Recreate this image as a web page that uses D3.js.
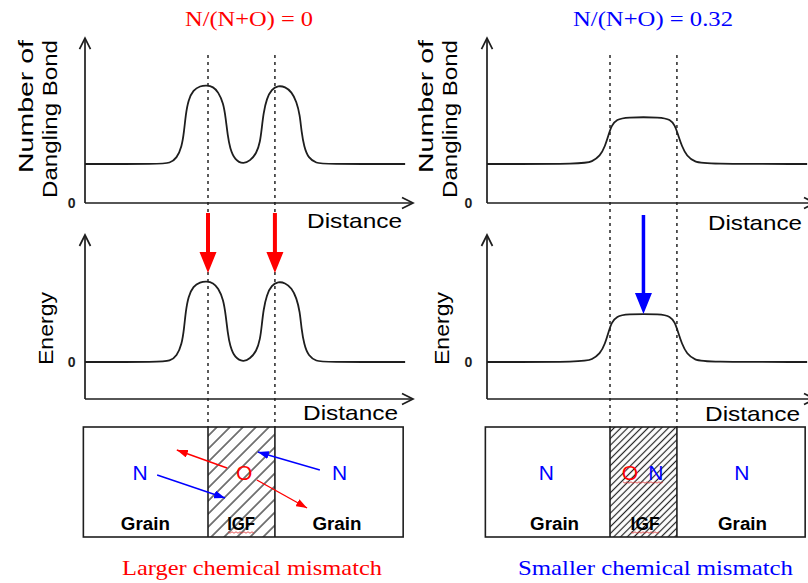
<!DOCTYPE html>
<html>
<head>
<meta charset="utf-8">
<script src="https://cdn.jsdelivr.net/npm/d3@7"></script>
<style>
  html, body { margin: 0; padding: 0; background: #fff; }
  svg { display: block; }
</style>
</head>
<body>
<svg id="fig" width="808" height="583"></svg>
<script>
// ---- data -------------------------------------------------------------
const titles = ["N/(N+O) = 0", "N/(N+O) = 0.32"];
const captions = ["Larger chemical mismatch", "Smaller chemical mismatch"];
const igfBounds = [3.75, 5.79];           // IGF edges along the distance axis

// two-peak profile, N/(N+O) = 0
const distA   = [0, 2.29, 2.59, 2.80, 2.95, 3.02, 3.07, 3.15, 3.30, 3.51, 3.71, 3.91, 4.06, 4.22, 4.29, 4.35, 4.42, 4.57, 4.83,
                 5.03, 5.23, 5.34, 5.39, 5.44, 5.54, 5.69, 5.89, 6.10, 6.30, 6.45, 6.55, 6.60, 6.68, 6.81, 7.06, 7.27, 9.76];
const bondA   = [1.00, 1.00, 1.02, 1.15, 1.44, 1.83, 2.26, 2.64, 2.90, 3.00, 3.02, 2.98, 2.85, 2.56, 2.17, 1.74, 1.40, 1.10, 1.00,
                 1.08, 1.27, 1.57, 1.92, 2.30, 2.68, 2.92, 3.01, 2.98, 2.85, 2.60, 2.26, 1.83, 1.44, 1.15, 1.02, 1.00, 1.00];
const energyA = [0.00, 0.00, 0.02, 0.15, 0.44, 0.83, 1.26, 1.64, 1.90, 2.00, 2.02, 1.98, 1.85, 1.56, 1.17, 0.74, 0.40, 0.10, 0.00,
                 0.08, 0.27, 0.57, 0.92, 1.30, 1.68, 1.92, 2.01, 1.98, 1.85, 1.60, 1.26, 0.83, 0.44, 0.15, 0.02, 0.00, 0.00];

// plateau profile, N/(N+O) = 0.32
const distB   = [0, 2.99, 3.19, 3.45, 3.60, 3.70, 3.80, 3.96, 4.21, 5.33, 5.58, 5.73, 5.83, 5.94, 6.09, 6.34, 6.65, 9.76];
const bondB   = [1.00, 1.00, 1.06, 1.20, 1.46, 1.73, 2.00, 2.14, 2.20, 2.20, 2.14, 2.00, 1.73, 1.46, 1.20, 1.05, 1.00, 1.00];
const energyB = [0.00, 0.00, 0.06, 0.20, 0.46, 0.73, 1.00, 1.14, 1.20, 1.20, 1.14, 1.00, 0.73, 0.46, 0.20, 0.05, 0.00, 0.00];

const peakEnergyA = 2.0;                  // barrier height marked by the red arrows
const plateauEnergyB = 1.2;               // barrier height marked by the blue arrow

// ---- setup ------------------------------------------------------------
const sans = "'Liberation Sans', Arial, Helvetica, sans-serif";
const serif = "'Liberation Serif', 'Times New Roman', serif";
const RED = "#ff0000", BLUE = "#0000ff", INK = "#1e1e1e";

const svg = d3.select("#fig");
const defs = svg.append("defs");

const xs = [
  d3.scaleLinear().domain([0, 10]).range([85, 413]),
  d3.scaleLinear().domain([0, 10]).range([487, 815])
];
const yBond = d3.scaleLinear().domain([0, 1]).range([203, 164]);
const yEnergy = d3.scaleLinear().domain([0, 1]).range([362, 322]);
const bondRange = [0, 4.23];
const energyRange = [-0.925, 3.175];

function hatch(id, gap) {
  const p = defs.append("pattern").attr("id", id)
    .attr("patternUnits", "userSpaceOnUse")
    .attr("width", gap).attr("height", gap)
    .attr("patternTransform", "rotate(45)");
  p.append("line").attr("x1", gap / 2).attr("y1", 0).attr("x2", gap / 2).attr("y2", gap)
    .attr("stroke", "#222").attr("stroke-width", 1.2);
}
hatch("hatch-wide", 9.2);
hatch("hatch-fine", 4.8);

[["red", RED], ["blue", BLUE]].forEach(([n, c]) => {
  defs.append("marker").attr("id", "tip-" + n)
    .attr("viewBox", "0 0 10 10").attr("refX", 10).attr("refY", 5)
    .attr("markerUnits", "userSpaceOnUse")
    .attr("markerWidth", 11).attr("markerHeight", 8)
    .attr("preserveAspectRatio", "none")
    .attr("orient", "auto")
    .append("path").attr("d", "M0,0L10,5L0,10Z").attr("fill", c);
});

function axes(x, y, lo, hi, zeroX) {
  const g = svg.append("g").attr("fill", "none").attr("stroke", INK).attr("stroke-width", 1.7);
  const x0 = x(0), x1 = x(10), yb = y(lo), yt = y(hi);
  g.append("line").attr("x1", x0).attr("y1", yb).attr("x2", x1).attr("y2", yb);
  g.append("line").attr("x1", x0).attr("y1", yb).attr("x2", x0).attr("y2", yt);
  g.append("path").attr("d", `M${x1 - 11},${yb - 5.5}L${x1},${yb}L${x1 - 11},${yb + 5.5}`);
  g.append("path").attr("d", `M${x0 - 5.5},${yt + 11}L${x0},${yt}L${x0 + 5.5},${yt + 11}`);
  svg.append("text").attr("x", zeroX).attr("y", y(0)).attr("dy", "0.36em")
    .attr("text-anchor", "middle").attr("font-family", sans).attr("font-weight", "bold")
    .attr("font-size", 14).attr("fill", INK).text("0");
}

function profile(x, y, dist, vals) {
  const line = d3.line().x(d => x(d[0])).y(d => y(d[1])).curve(d3.curveBasis);
  svg.append("path").attr("d", line(d3.zip(dist, vals)))
    .attr("fill", "none").attr("stroke", INK).attr("stroke-width", 1.8);
}

function label(t, x, y, opts) {
  const o = Object.assign({size: 21, family: sans, fill: "#000", anchor: "start", weight: "normal"}, opts);
  const el = svg.append("text").attr("x", x).attr("y", y)
    .attr("font-family", o.family).attr("font-size", o.size).attr("font-weight", o.weight)
    .attr("fill", o.fill).attr("text-anchor", o.anchor).text(t);
  if (o.len) el.attr("textLength", o.len).attr("lengthAdjust", "spacingAndGlyphs");
  if (o.rotate) el.attr("transform", `rotate(-90,${x},${y})`);
  return el;
}

function bigArrow(cx, y0, tip, color, shaftW) {
  const hw = shaftW / 2, hh = 8.5, yb = tip - 21;
  svg.append("path")
    .attr("d", `M${cx - hw},${y0}H${cx + hw}V${yb}H${cx + hh}L${cx},${tip}L${cx - hh},${yb}H${cx - hw}Z`)
    .attr("fill", color);
}

function squiggle(x0, x1, y) {
  const pts = [];
  for (let xx = x0, k = 0; xx <= x1; xx += 2, k++) pts.push([xx, y + (k % 2 ? 1.2 : -0.2)]);
  svg.append("path").attr("d", d3.line()(pts)).attr("fill", "none")
    .attr("stroke", "#e03030").attr("stroke-width", 0.8);
}

// ---- panels -----------------------------------------------------------
const BOX_TOP = 427, BOX_BOT = 537;

xs.forEach((x, i) => {
  // titles
  label(titles[i], i === 0 ? 249 : 653, 26,
        {family: serif, size: 21, anchor: "middle", fill: i === 0 ? RED : BLUE, len: i === 0 ? 128 : 160});

  // IGF boundaries (dotted guides)
  igfBounds.forEach(b => {
    svg.append("line").attr("x1", x(b)).attr("x2", x(b)).attr("y1", 55).attr("y2", BOX_TOP)
      .attr("stroke", "#333").attr("stroke-width", 1.6).attr("stroke-dasharray", "3,4");
  });

  // dangling bond plot
  axes(x, yBond, bondRange[0], bondRange[1], i === 0 ? 71.7 : 468.5);
  profile(x, yBond, i === 0 ? distA : distB, i === 0 ? bondA : bondB);

  // energy plot
  axes(x, yEnergy, energyRange[0], energyRange[1], i === 0 ? 71.7 : 468.5);
  profile(x, yEnergy, i === 0 ? distA : distB, i === 0 ? energyA : energyB);
});

// axis titles
label("Number of", 33, 40, {rotate: true, anchor: "end", len: 133});
label("Dangling Bond", 57, 40, {rotate: true, anchor: "end", len: 158});
label("Number of", 433, 40, {rotate: true, anchor: "end", len: 133});
label("Dangling Bond", 457, 40, {rotate: true, anchor: "end", len: 158});
label("Energy", 53, 365, {rotate: true, len: 73});
label("Energy", 449, 365, {rotate: true, len: 73});
label("Distance", 307, 228, {len: 95});
label("Distance", 303, 420, {len: 95});
label("Distance", 708, 230, {len: 94});
label("Distance", 705, 421, {len: 95});

// barrier arrows
igfBounds.forEach(b => bigArrow(xs[0](b), 213, yEnergy(peakEnergyA) - 9, RED, 4));
bigArrow(xs[1](d3.mean(igfBounds)), 215, yEnergy(plateauEnergyB), BLUE, 3.5);

// ---- grain / IGF schematics ---------------------------------------------
xs.forEach((x, i) => {
  const g = svg.append("g");
  g.append("rect").attr("x", x(igfBounds[0])).attr("y", BOX_TOP)
    .attr("width", x(igfBounds[1]) - x(igfBounds[0])).attr("height", BOX_BOT - BOX_TOP)
    .attr("fill", `url(#${i === 0 ? "hatch-wide" : "hatch-fine"})`);
  g.append("rect").attr("x", x(-0.05)).attr("y", BOX_TOP)
    .attr("width", x(9.7) - x(-0.05)).attr("height", BOX_BOT - BOX_TOP)
    .attr("fill", "none").attr("stroke", INK).attr("stroke-width", 1.6);
  igfBounds.forEach(b => g.append("line").attr("x1", x(b)).attr("x2", x(b))
    .attr("y1", BOX_TOP).attr("y2", BOX_BOT).attr("stroke", INK).attr("stroke-width", 1.6));
});

// element migration arrows across the left boundary region
const migrations = [
  {from: [4.33, 41], to: [2.80, 23], c: "red"},
  {from: [5.24, 53], to: [6.77, 81], c: "red"},
  {from: [2.20, 48], to: [4.27, 71], c: "blue"},
  {from: [7.16, 43], to: [5.27, 25], c: "blue"}
];
migrations.forEach(m => {
  svg.append("line")
    .attr("x1", xs[0](m.from[0])).attr("y1", BOX_TOP + m.from[1])
    .attr("x2", xs[0](m.to[0])).attr("y2", BOX_TOP + m.to[1])
    .attr("stroke", m.c === "red" ? RED : BLUE).attr("stroke-width", 1.4)
    .attr("marker-end", `url(#tip-${m.c})`);
});

// species labels
const big = {size: 21, anchor: "middle"};
label("N", xs[0](1.68), 480, Object.assign({fill: BLUE}, big));
label("O", xs[0](4.85), 480, Object.assign({fill: RED}, big));
label("N", xs[0](7.76), 480, Object.assign({fill: BLUE}, big));
label("N", xs[1](1.81), 480, Object.assign({fill: BLUE}, big));
label("O", xs[1](4.36), 480, Object.assign({fill: RED}, big));
label("N", xs[1](5.15), 480, Object.assign({fill: BLUE}, big));
label("N", xs[1](7.77), 480, Object.assign({fill: BLUE}, big));

const reg = {size: 18, weight: "bold", anchor: "middle", fill: "#000"};
label("Grain", xs[0](1.84), 530, Object.assign({len: 49}, reg));
label("IGF", xs[0](4.76), 530, Object.assign({len: 28}, reg));
label("Grain", xs[0](7.68), 530, Object.assign({len: 49}, reg));
label("Grain", xs[1](2.06), 530, Object.assign({len: 49}, reg));
label("IGF", xs[1](4.82), 530, Object.assign({len: 29}, reg));
label("Grain", xs[1](7.79), 530, Object.assign({len: 49}, reg));

squiggle(228, 254, 532);
squiggle(623, 664, 482);
squiggle(631, 659, 532);

// captions
label(captions[0], 252, 575, {family: serif, size: 22, anchor: "middle", fill: RED, len: 260});
label(captions[1], 655.5, 575, {family: serif, size: 22, anchor: "middle", fill: BLUE, len: 275});
</script>
</body>
</html>
